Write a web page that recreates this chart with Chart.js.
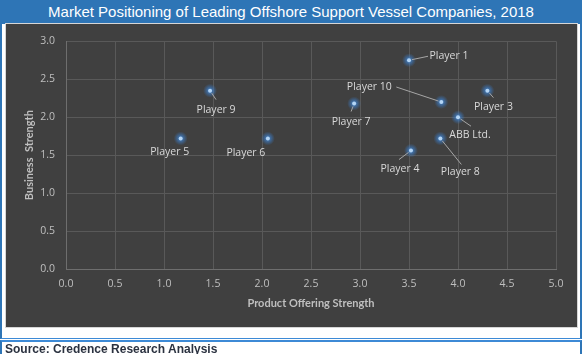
<!DOCTYPE html>
<html>
<head>
<meta charset="utf-8">
<script src="https://cdn.jsdelivr.net/npm/chart.js@4/dist/chart.umd.min.js"></script>
<style>
  body { margin: 0; width: 582px; height: 354px; overflow: hidden; background: #fff; position: relative; font-family: "Liberation Sans", Arial, sans-serif; }
  #title { position: absolute; left: 0; top: 0; width: 582px; height: 24px; background: #2e75b6; color: #fff; font-size: 15px; line-height: 24px; text-align: center; }
  #frame { position: absolute; left: 0; top: 24px; width: 582px; height: 315px; box-sizing: border-box; border-left: 2px solid #2e75b6; border-right: 2px solid #2e75b6; border-bottom: 1px solid #3d8ad6; }
  #plot { position: absolute; left: 6px; top: 24px; width: 571px; height: 303px; background: #404040; outline: 1px solid #d6d6d6; }
  #source { position: absolute; left: 0; top: 340px; width: 582px; height: 14px; box-sizing: border-box; border-left: 2px solid #2e75b6; border-right: 2px solid #2e75b6; border-top: 2px solid #3d8ad6; padding-left: 3px; font-weight: bold; font-size: 12px; line-height: 14px; color: #2b3240; white-space: nowrap; overflow: hidden; }
</style>
</head>
<body>
<div id="title">Market Positioning of Leading Offshore Support Vessel Companies, 2018</div>
<div id="frame"></div>
<div id="plot"><canvas id="myChart" width="571" height="303"></canvas></div>
<div id="source">Source: Credence Research Analysis</div>
<script>
// data
const players = ["Player 1", "Player 3", "Player 4", "Player 5", "Player 6", "Player 7", "Player 8", "Player 9", "Player 10", "ABB Ltd."];
const productStrength = [3.50, 4.30, 3.52, 1.17, 2.06, 2.94, 3.82, 1.47, 3.83, 4.00];
const businessStrength = [2.75, 2.35, 1.56, 1.72, 1.72, 2.18, 1.72, 2.35, 2.20, 2.00];
const xRange = [0, 5];
const yRange = [0, 3];
const tickStep = 0.5;

// label placement (pixels from the point): label centre, leader end (null = no leader)
const labelOffsets = [
    { dx: 40, dy: -4, lx: 19, ly: -4 },
    { dx: 6, dy: 16, lx: 6, ly: 7 },
    { dx: -11, dy: 18, lx: -12, ly: 9 },
    { dx: -11, dy: 14, lx: null },
    { dx: -22, dy: 15, lx: null },
    { dx: -3, dy: 18, lx: -3, ly: 8 },
    { dx: 20, dy: 34, lx: 21, ly: 26 },
    { dx: 6, dy: 19, lx: 6, ly: 9 },
    { dx: -72, dy: -15, lx: -45, ly: -15 },
    { dx: 12, dy: 18, lx: 13, ly: 9 }
];

const pointLabels = {
    id: 'pointLabels',
    // soft blue glow under each marker
    beforeDatasetDraw(chart) {
        const ctx = chart.ctx;
        chart.getDatasetMeta(0).data.forEach(p => {
            const g = ctx.createRadialGradient(p.x, p.y, 0, p.x, p.y, 7);
            g.addColorStop(0, 'rgba(80,150,225,0.95)');
            g.addColorStop(0.5, 'rgba(60,125,200,0.55)');
            g.addColorStop(1, 'rgba(60,120,190,0)');
            ctx.fillStyle = g;
            ctx.beginPath();
            ctx.arc(p.x, p.y, 7, 0, Math.PI * 2);
            ctx.fill();
        });
    },
    afterDatasetsDraw(chart) {
        const ctx = chart.ctx;
        const pts = chart.getDatasetMeta(0).data;
        ctx.save();
        ctx.font = '10.5px "Open Sans"';
        ctx.textAlign = 'center';
        ctx.textBaseline = 'middle';
        pts.forEach((p, i) => {
            const o = labelOffsets[i];
            if (o.lx !== null) {
                const len = Math.hypot(o.lx, o.ly);
                ctx.strokeStyle = '#a6a6a6';
                ctx.lineWidth = 1;
                ctx.beginPath();
                ctx.moveTo(p.x + o.lx / len * 3, p.y + o.ly / len * 3);
                ctx.lineTo(p.x + o.lx, p.y + o.ly);
                ctx.stroke();
            }
            ctx.fillStyle = '#d9d9d9';
            ctx.fillText(players[i], p.x + o.dx, p.y + o.dy);
        });
        ctx.restore();
    }
};

const tickFont = { family: '"Open Sans"', size: 10.5 };
const titleFont = { family: 'Lato', size: 11, weight: 'bold' };

let ctx = document.getElementById('myChart').getContext('2d');
new Chart(ctx, {
    type: 'scatter',
    data: {
        datasets: [{
            label: 'Players',
            data: productStrength.map((x, i) => ({ x: x, y: businessStrength[i] })),
            pointRadius: 2,
            pointBackgroundColor: '#b4d5f5',
            pointBorderWidth: 0
        }]
    },
    options: {
        responsive: false,
        animation: false,
        devicePixelRatio: 1,
        layout: { padding: { top: 14, right: 21, left: 0, bottom: 0 } },
        plugins: { legend: { display: false }, tooltip: { enabled: false } },
        scales: {
            x: {
                type: 'linear',
                min: xRange[0], max: xRange[1],
                afterFit(s) { s.height = 58; },
                ticks: { stepSize: tickStep, callback: v => v.toFixed(1), color: '#bfbfbf', font: tickFont, padding: 9, maxRotation: 0 },
                grid: { color: '#595959', drawTicks: false },
                border: { color: '#6e6e6e' },
                title: { display: true, text: 'Product Offering Strength', color: '#bfbfbf', font: titleFont, padding: { top: 0, bottom: 17 } }
            },
            y: {
                min: yRange[0], max: yRange[1],
                afterFit(s) { s.width = 60; },
                ticks: { stepSize: tickStep, callback: v => v.toFixed(1), color: '#bfbfbf', font: tickFont, padding: 11 },
                grid: { color: '#595959', drawTicks: false },
                border: { color: '#6e6e6e' },
                title: { display: true, text: 'Business  Strength', color: '#bfbfbf', font: titleFont, padding: { top: 17, bottom: 0 } }
            }
        }
    },
    plugins: [pointLabels]
});
</script>
</body>
</html>
